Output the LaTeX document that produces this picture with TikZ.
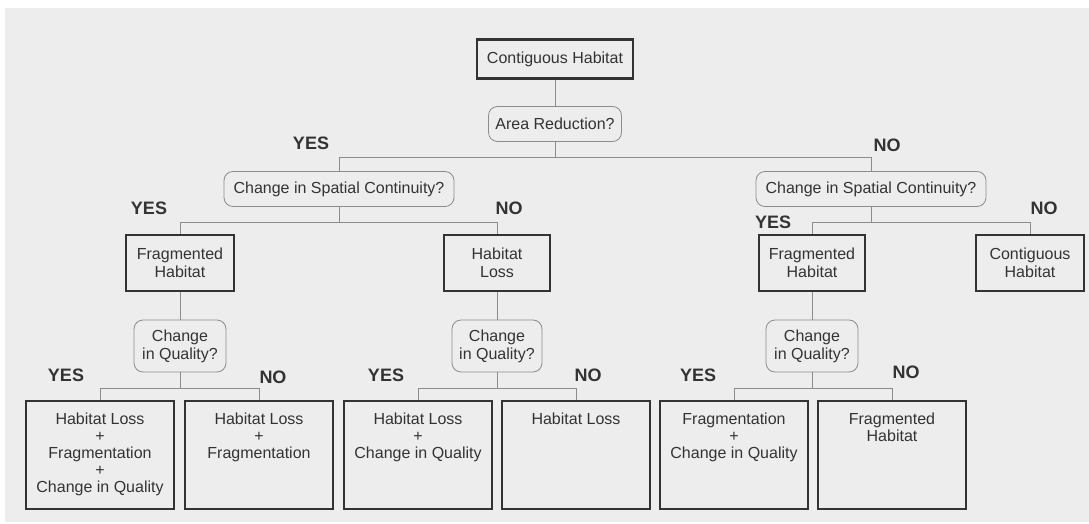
\documentclass[tikz,border=0pt]{standalone}
\usepackage{fontspec}
\setmainfont{Liberation Sans}
\definecolor{paper}{gray}{0.93}
\definecolor{ink}{gray}{0.2}
\definecolor{wire}{gray}{0.55}

\begin{document}
\begin{tikzpicture}[x=1pt,y=-1pt,
    every node/.style={font=\fontsize{16}{18}\selectfont,text=ink},
    result/.style={rectangle,draw=ink,line width=2.4pt,align=center},
    leaf/.style={result,minimum width=148pt,minimum height=108pt},
    leaftext/.style={anchor=north,align=center,inner sep=0pt,yshift=-13pt,font=\fontsize{16}{17}\selectfont},
    question/.style={rectangle,rounded corners=9pt,draw=wire,line width=0.8pt,align=center,inner sep=2pt},
    conn/.style={draw=wire,line width=0.8pt},
    answer/.style={font=\fontsize{18}{20}\selectfont\bfseries}]
  \useasboundingbox (0,0) rectangle (1089,524);
  \fill[white] (0,0) rectangle (1089,524);
  \fill[paper] (5,8) rectangle (1089,522);

  % top of the tree
  \draw node (start) [result,minimum width=156pt,minimum height=39pt] at (555,59) {Contiguous Habitat}
        node (area) [question,minimum width=133pt,minimum height=35pt] at (555,124) {Area Reduction?}
        node (spatiala) [question,minimum width=230pt,minimum height=35pt] at (339,189) {Change in Spatial Continuity?}
        node (spatialb) [question,minimum width=230pt,minimum height=35pt] at (871,189) {Change in Spatial Continuity?};

  % second level
  \draw node (fraga) [result,minimum width=108pt,minimum height=56pt] at (180,263) {Fragmented\\Habitat}
        node (loss) [result,minimum width=106pt,minimum height=56pt] at (497,263) {Habitat\\Loss}
        node (fragb) [result,minimum width=106pt,minimum height=56pt] at (812,263) {Fragmented\\Habitat}
        node (contb) [result,minimum width=108pt,minimum height=56pt] at (1030,263) {Contiguous\\Habitat};

  \draw node (qualitya) [question,minimum width=92pt,minimum height=52pt] at (180,346) {Change\\in Quality?}
        node (qualityb) [question,minimum width=90pt,minimum height=52pt] at (497,346) {Change\\in Quality?}
        node (qualityc) [question,minimum width=92pt,minimum height=52pt] at (812,346) {Change\\in Quality?};

  % outcomes
  \draw node (enda) [leaf,label={[leaftext]north:Habitat Loss\\+\\Fragmentation\\+\\Change in Quality}] at (100,455) {}
        node (endb) [leaf,label={[leaftext]north:Habitat Loss\\+\\Fragmentation}] at (259,455) {}
        node (endc) [leaf,label={[leaftext]north:Habitat Loss\\+\\Change in Quality}] at (418,455) {}
        node (endd) [leaf,label={[leaftext]north:Habitat Loss}] at (576,455) {}
        node (ende) [leaf,label={[leaftext]north:Fragmentation\\+\\Change in Quality}] at (734,455) {}
        node (endf) [leaf,label={[leaftext]north:Fragmented\\Habitat}] at (892,455) {};

  % connectors
  \draw[conn] (start) -- (area);
  \draw[conn] (area.south) -- ++(0,15) -| (spatiala.north);
  \draw[conn] (area.south) -- ++(0,15) -| (spatialb.north);
  \draw[conn] (spatiala.south) -- ++(0,15) -| (fraga.north);
  \draw[conn] (spatiala.south) -- ++(0,15) -| (loss.north);
  \draw[conn] (spatialb.south) -- ++(0,15) -| (fragb.north);
  \draw[conn] (spatialb.south) -- ++(0,15) -| (contb.north);
  \draw[conn] (fraga) -- (qualitya);
  \draw[conn] (loss) -- (qualityb);
  \draw[conn] (fragb) -- (qualityc);
  \draw[conn] (qualitya.south) -- ++(0,16) -| (enda.north);
  \draw[conn] (qualitya.south) -- ++(0,16) -| (endb.north);
  \draw[conn] (qualityb.south) -- ++(0,16) -| (endc.north);
  \draw[conn] (qualityb.south) -- ++(0,16) -| (endd.north);
  \draw[conn] (qualityc.south) -- ++(0,16) -| (ende.north);
  \draw[conn] (qualityc.south) -- ++(0,16) -| (endf.north);

  % answers
  \draw node (yesa) [answer] at (311,143) {YES}
        node (noa) [answer] at (887,145) {NO}
        node (yesb) [answer] at (149,208) {YES}
        node (nob) [answer] at (509,208) {NO}
        node (yesc) [answer] at (773,222) {YES}
        node (noc) [answer] at (1044,208) {NO}
        node (yesd) [answer] at (66,375) {YES}
        node (nod) [answer] at (273,377) {NO}
        node (yese) [answer] at (386,375) {YES}
        node (noe) [answer] at (588,375) {NO}
        node (yesf) [answer] at (698,375) {YES}
        node (nof) [answer] at (906,372) {NO};
\end{tikzpicture}
\end{document}
